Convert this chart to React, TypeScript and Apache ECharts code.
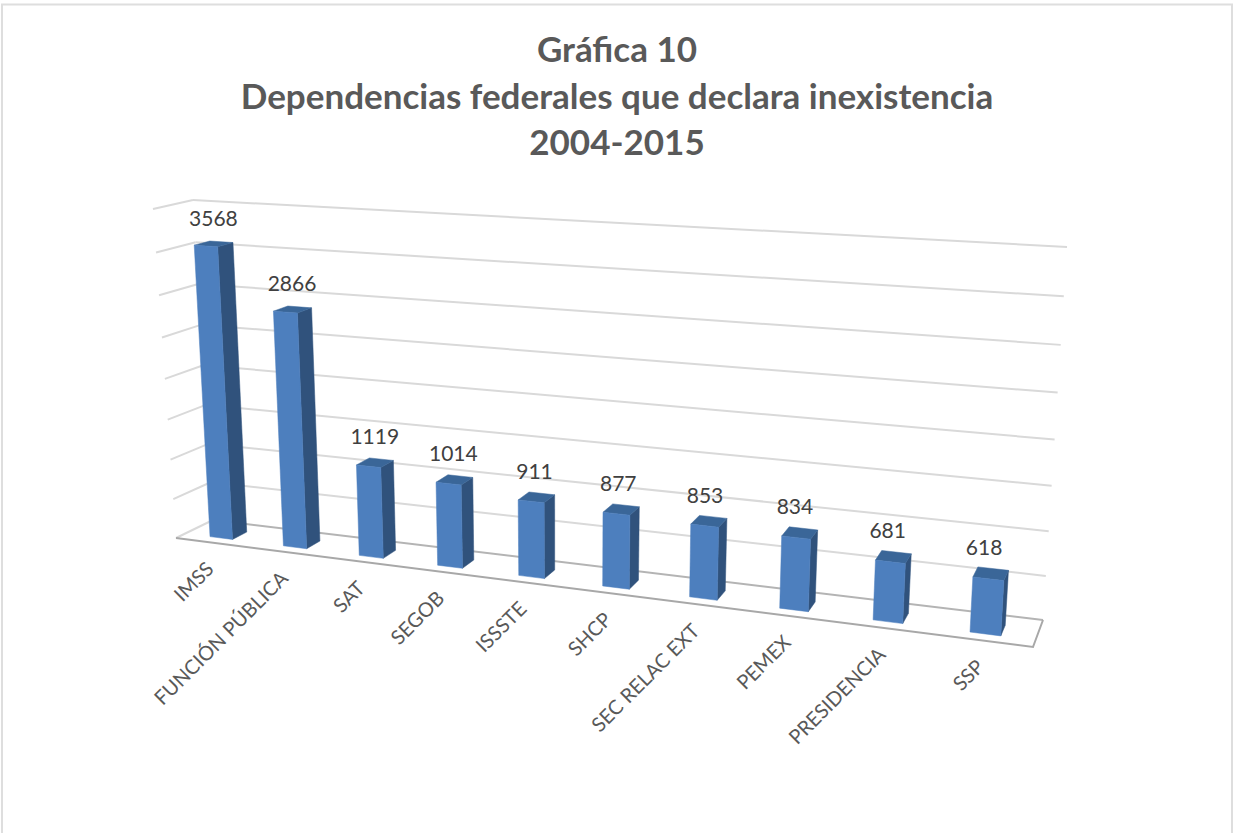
import React, { useEffect, useRef } from "react";
import * as echarts from "echarts";

const titleLines = ["Gráfica 10", "Dependencias federales que declara inexistencia", "2004-2015"];
const categories = ["IMSS", "FUNCIÓN PÚBLICA", "SAT", "SEGOB", "ISSSTE", "SHCP", "SEC RELAC EXT", "PEMEX", "PRESIDENCIA", "SSP"];
const values = [3568, 2866, 1119, 1014, 911, 877, 853, 834, 681, 618];
const gridTicks = [0, 500, 1000, 1500, 2000, 2500, 3000, 3500, 4000];

const W = 1233;
const H = 833;
const MAX = 4000;
const FONT = "Lato, Carlito, 'Open Sans', sans-serif";

// Perspective box: corners of the back wall (z = 0) and the front plane (z = 1)
const BACK = { bl: [213, 520], br: [1043, 620], tl: [193, 200], tr: [1067, 247] };
const FRONT = { bl: [176, 538], br: [1033, 647], tl: [153, 209], tr: [1054, 267] };
const WARP_U = -0.16;
const WARP_V = -0.063;
const warp = (t: number, c: number) => ((1 + c) * t) / (1 + c * t);
const lerp = (a: number, b: number, t: number) => a + (b - a) * t;

// fx, fy are fractions of the (invisible) cartesian grid; z is the depth
function project(fx: number, fy: number, z: number): number[] {
  const s = warp(fx, WARP_U);
  const t = warp(fy, WARP_V);
  return [0, 1].map((k) => {
    const bottomB = lerp(BACK.bl[k], BACK.br[k], s);
    const topB = lerp(BACK.tl[k], BACK.tr[k], s);
    const bottomF = lerp(FRONT.bl[k], FRONT.br[k], s);
    const topF = lerp(FRONT.tl[k], FRONT.tr[k], s);
    return lerp(lerp(bottomB, topB, t), lerp(bottomF, topF, t), z);
  });
}
// pixel from the axis scales -> fractions
const fracs = (p: number[]) => [p[0] / W, 1 - p[1] / H];

const BAR_FRONT_Z = 0.75;
const BAR_BACK_Z = 0.35;
const BAR_Z_LEAN = 0.08;
const BAR_WIDTH = 0.31;

const renderGrid = (_: any, api: any) => {
  const [, fy] = fracs(api.coord([0, api.value(1)]));
  const isFloor = api.value(1) === 0;
  const corner = project(0, fy, 0);
  const right = project(1, fy, 0);
  const stub = project(0, fy, 1);
  const style = { stroke: "#d9d9d9", lineWidth: 2, fill: "none" };
  const children: any[] = [
    { type: "polyline", shape: { points: [stub, corner] }, style },
    { type: "polyline", shape: { points: [corner, right] }, style: isFloor ? { ...style, stroke: "#b4b4b4" } : style },
  ];
  if (isFloor) {
    children.push({
      type: "polyline",
      shape: { points: [right, project(1, fy, 1), stub] },
      style: { ...style, stroke: "#a8a8a8" },
    });
  }
  return { type: "group", children };
};

const renderBar = (_: any, api: any) => {
  const idx = api.value(0);
  const val = api.value(1);
  const band = api.size([1, 0])[0] / W;
  const [cx] = fracs(api.coord([idx, 0]));
  const [, top] = fracs(api.coord([idx, val]));
  const [, base] = fracs(api.coord([idx, 0]));
  const l = cx - (band * BAR_WIDTH) / 2;
  const r = cx + (band * BAR_WIDTH) / 2;
  const poly = (pts: number[][], fill: string) => ({
    type: "polygon",
    shape: { points: pts },
    style: { fill, stroke: fill, lineWidth: 0.5 },
  });
  const z0 = BAR_FRONT_Z;
  const z1 = BAR_BACK_Z;
  const zTop0 = z0 - BAR_Z_LEAN * top;
  const zTop1 = z1 - BAR_Z_LEAN * top;
  const labelAnchor = project(cx, top, (z0 + z1) / 2);
  const catAnchor = project(cx, base, 1);
  return {
    type: "group",
    children: [
      poly([project(r, base, z0), project(r, base, z1), project(r, top, zTop1), project(r, top, zTop0)], "#30527c"),
      poly([project(l, top, zTop0), project(r, top, zTop0), project(r, top, zTop1), project(l, top, zTop1)], "#3a6698"),
      poly([project(l, base, z0), project(r, base, z0), project(r, top, zTop0), project(l, top, zTop0)], "#4d7fbe"),
      {
        type: "text",
        x: labelAnchor[0] + 3 - 10 * cx,
        y: labelAnchor[1] - 17,
        style: {
          text: String(val),
          font: `21px ${FONT}`,
          fill: "#404040",
          align: "center",
          verticalAlign: "bottom",
        },
      },
      {
        type: "text",
        x: catAnchor[0] - 10,
        y: catAnchor[1] + 15,
        rotation: Math.PI / 4,
        originX: 0,
        originY: 0,
        style: {
          text: categories[idx],
          font: `20px ${FONT}`,
          fill: "#595959",
          align: "right",
          verticalAlign: "top",
        },
      },
    ],
  };
};

export default function App() {
  const ref = useRef<HTMLDivElement>(null);
  useEffect(() => {
    const chart = echarts.init(ref.current!, undefined, { renderer: "svg" });
    chart.setOption({
      animation: false,
      backgroundColor: "#ffffff",
      title: {
        text: titleLines.join("\n"),
        top: 25,
        left: 617,
        padding: 0,
        textAlign: "center",
        textStyle: { fontFamily: FONT, fontSize: 35, fontWeight: "bold", color: "#595959", lineHeight: 46.5 },
      },
      grid: { left: 0, right: 0, top: 0, bottom: 0 },
      xAxis: { type: "category", data: categories, show: false },
      yAxis: { type: "value", min: 0, max: MAX, interval: 500, show: false },
      graphic: [
        {
          type: "rect",
          shape: { x: 2, y: 4.5, width: 1230, height: 840 },
          style: { fill: "none", stroke: "#dedede", lineWidth: 2 },
          silent: true,
        },
      ],
      series: [
        {
          type: "custom",
          renderItem: renderGrid,
          data: gridTicks.map((v) => [0, v]),
          coordinateSystem: "cartesian2d",
          encode: { x: 0, y: 1 },
          silent: true,
          clip: false,
          z: 1,
        },
        {
          type: "custom",
          renderItem: renderBar,
          data: values.map((v, i) => [i, v]),
          coordinateSystem: "cartesian2d",
          encode: { x: 0, y: 1 },
          silent: true,
          clip: false,
          z: 2,
        },
      ],
    });
    return () => chart.dispose();
  }, []);
  return <div ref={ref} style={{ position: "fixed", left: 0, top: 0, width: W, height: H }} />;
}
